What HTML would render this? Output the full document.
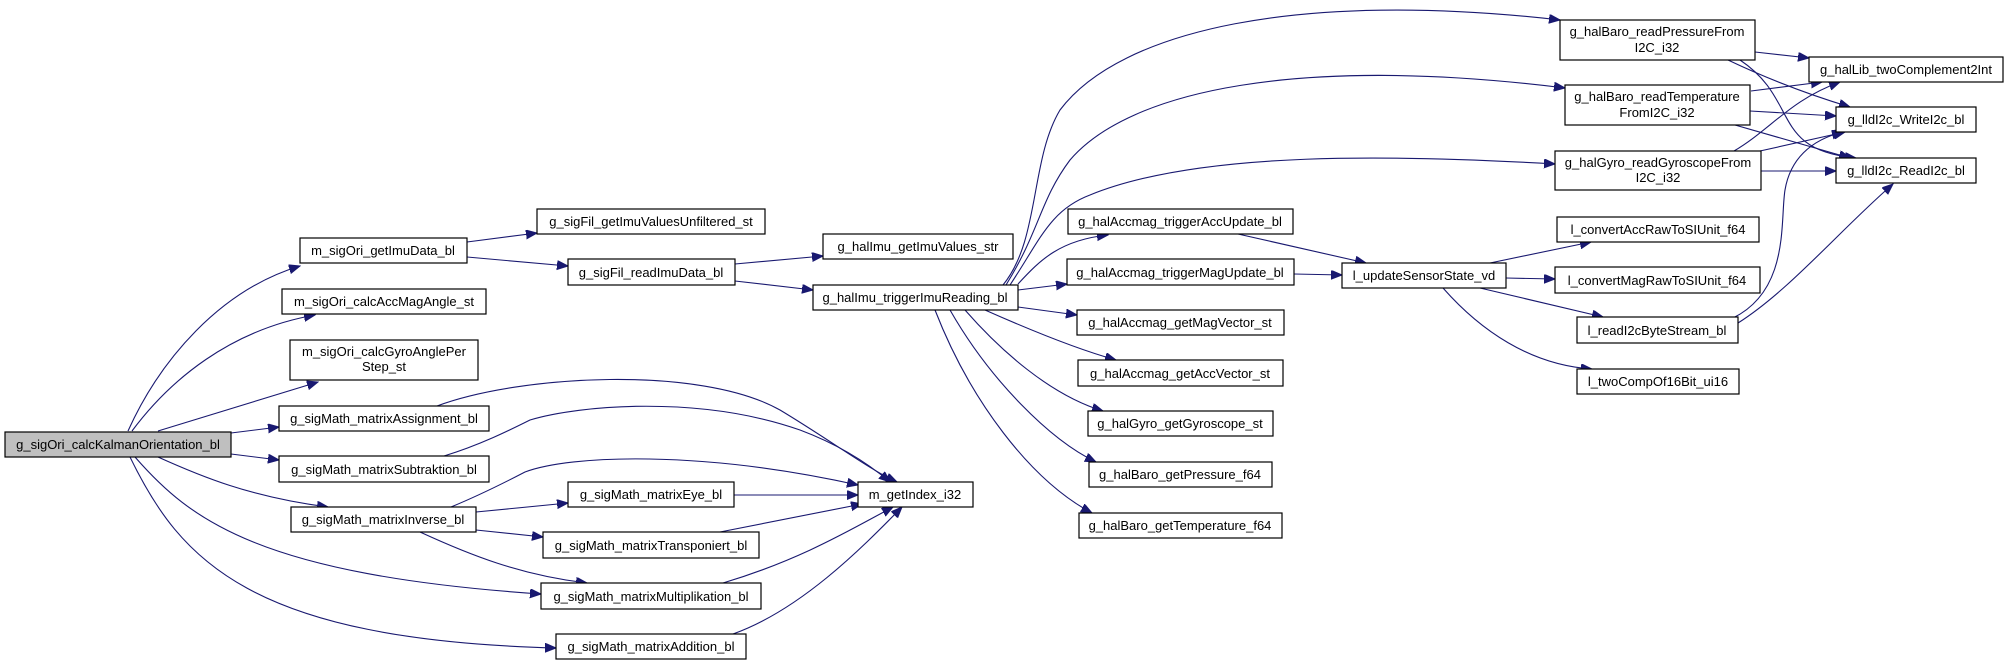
<!DOCTYPE html>
<html><head><meta charset="utf-8"><style>
html,body{margin:0;padding:0;background:#fff;}
svg{display:block;}
text{font-family:"Liberation Sans",sans-serif;font-size:13px;fill:#000;}
.n{fill:#fff;stroke:#000;stroke-width:1.2;}
.e{fill:none;stroke:#191970;stroke-width:1.1;}
</style></head><body>
<svg width="2009" height="665" viewBox="0 0 2009 665" xmlns="http://www.w3.org/2000/svg">
<defs><marker id="a" markerUnits="userSpaceOnUse" markerWidth="12" markerHeight="10" refX="11" refY="4.5" orient="auto"><path d="M0,0 L11,4.5 L0,9 Z" fill="#191970" stroke="#191970"/></marker></defs>
<g class="e" marker-end="url(#a)">
<path d="M128,431 C160,360 220,290 300,266"/>
<path d="M132,431 C170,380 230,330 315,315"/>
<path d="M158,431 L318,382"/>
<path d="M231,433 L279,427"/>
<path d="M231,454 L279,460"/>
<path d="M158,457 C200,476 250,497 328,507"/>
<path d="M135,457 C190,520 260,575 541,594"/>
<path d="M130,457 C180,560 250,640 556,648"/>
<path d="M437,406 C520,375 700,365 780,410 C830,440 870,470 897,482"/>
<path d="M444,456 C480,445 510,430 530,420 C580,405 700,395 800,430 C840,445 870,465 890,482"/>
<path d="M451,507 C480,495 500,485 525,472 C570,455 700,450 858,485"/>
<path d="M734,495 L858,495"/>
<path d="M720,532 L862,504"/>
<path d="M723,583 C800,560 850,530 893,507"/>
<path d="M733,634 C800,610 860,550 902,507"/>
<path d="M476,512 L568,503"/>
<path d="M476,530 L543,537"/>
<path d="M420,532 C470,555 520,575 587,583"/>
<path d="M467,242 L537,233"/>
<path d="M467,257 L568,266"/>
<path d="M735,264 L823,256"/>
<path d="M735,281 L813,290"/>
<path d="M1003,285 C1040,240 1030,160 1060,110 C1120,30 1300,-10 1560,20"/>
<path d="M1006,285 C1040,230 1040,200 1070,160 C1130,90 1300,55 1565,88"/>
<path d="M1010,285 C1040,240 1050,210 1090,195 C1200,150 1400,155 1555,164"/>
<path d="M1018,284 C1040,260 1060,240 1108,235"/>
<path d="M1018,290 L1067,284"/>
<path d="M1018,307 L1077,315"/>
<path d="M985,310 C1030,330 1080,350 1116,360"/>
<path d="M965,310 C1000,350 1050,395 1103,411"/>
<path d="M950,310 C990,380 1050,440 1096,462"/>
<path d="M935,310 C970,400 1030,480 1092,513"/>
<path d="M1238,234 L1366,263"/>
<path d="M1294,274 L1342,275"/>
<path d="M1490,263 L1591,242"/>
<path d="M1506,278 L1555,279"/>
<path d="M1480,288 L1603,317"/>
<path d="M1443,288 C1480,330 1530,365 1592,369"/>
<path d="M1755,52 L1809,58"/>
<path d="M1728,60 C1770,80 1810,95 1850,107"/>
<path d="M1740,60 C1800,100 1770,150 1856,158"/>
<path d="M1751,91 L1822,82"/>
<path d="M1750,111 L1836,116"/>
<path d="M1735,125 L1850,158"/>
<path d="M1734,151 C1770,130 1790,100 1840,82"/>
<path d="M1760,151 L1845,132"/>
<path d="M1761,171 L1836,171"/>
<path d="M1733,318 C1790,290 1780,220 1785,190 C1790,160 1810,140 1843,132"/>
<path d="M1738,323 C1790,290 1840,230 1893,184"/>
</g>
<g>
<rect x="5" y="432" width="226" height="25" style="fill:#bfbfbf;stroke:#000;stroke-width:1.2"/>
<text x="118" y="449" text-anchor="middle">g_sigOri_calcKalmanOrientation_bl</text>
</g>
<g class="n">
<rect x="300" y="238" width="167" height="25"/>
<rect x="282" y="289" width="204" height="25"/>
<rect x="290" y="340" width="188" height="40"/>
<rect x="279" y="406" width="210" height="25"/>
<rect x="279" y="456" width="210" height="26"/>
<rect x="291" y="507" width="185" height="25"/>
<rect x="537" y="209" width="228" height="25"/>
<rect x="568" y="259" width="167" height="26"/>
<rect x="568" y="482" width="166" height="25"/>
<rect x="543" y="532" width="216" height="26"/>
<rect x="541" y="583" width="220" height="26"/>
<rect x="556" y="634" width="190" height="25"/>
<rect x="858" y="482" width="115" height="25"/>
<rect x="823" y="234" width="190" height="25"/>
<rect x="813" y="285" width="205" height="25"/>
<rect x="1560" y="20" width="195" height="40"/>
<rect x="1565" y="85" width="185" height="40"/>
<rect x="1555" y="151" width="206" height="39"/>
<rect x="1809" y="57" width="194" height="25"/>
<rect x="1836" y="107" width="140" height="25"/>
<rect x="1836" y="158" width="140" height="25"/>
<rect x="1068" y="209" width="225" height="25"/>
<rect x="1067" y="259" width="227" height="26"/>
<rect x="1077" y="310" width="207" height="25"/>
<rect x="1078" y="360" width="205" height="26"/>
<rect x="1088" y="411" width="185" height="25"/>
<rect x="1089" y="462" width="183" height="25"/>
<rect x="1079" y="513" width="203" height="25"/>
<rect x="1342" y="263" width="164" height="25"/>
<rect x="1557" y="217" width="202" height="25"/>
<rect x="1555" y="267" width="205" height="26"/>
<rect x="1577" y="317" width="161" height="26"/>
<rect x="1577" y="369" width="162" height="25"/>
</g>
<g text-anchor="middle">
<text x="383" y="255">m_sigOri_getImuData_bl</text>
<text x="384" y="306">m_sigOri_calcAccMagAngle_st</text>
<text x="384" y="356">m_sigOri_calcGyroAnglePer</text>
<text x="384" y="371">Step_st</text>
<text x="384" y="423">g_sigMath_matrixAssignment_bl</text>
<text x="384" y="474">g_sigMath_matrixSubtraktion_bl</text>
<text x="383" y="524">g_sigMath_matrixInverse_bl</text>
<text x="651" y="226">g_sigFil_getImuValuesUnfiltered_st</text>
<text x="651" y="277">g_sigFil_readImuData_bl</text>
<text x="651" y="499">g_sigMath_matrixEye_bl</text>
<text x="651" y="550">g_sigMath_matrixTransponiert_bl</text>
<text x="651" y="601">g_sigMath_matrixMultiplikation_bl</text>
<text x="651" y="651">g_sigMath_matrixAddition_bl</text>
<text x="915" y="499">m_getIndex_i32</text>
<text x="918" y="251">g_halImu_getImuValues_str</text>
<text x="915" y="302">g_halImu_triggerImuReading_bl</text>
<text x="1657" y="36">g_halBaro_readPressureFrom</text>
<text x="1657" y="52">I2C_i32</text>
<text x="1657" y="101">g_halBaro_readTemperature</text>
<text x="1657" y="117">FromI2C_i32</text>
<text x="1658" y="167">g_halGyro_readGyroscopeFrom</text>
<text x="1658" y="182">I2C_i32</text>
<text x="1906" y="74">g_halLib_twoComplement2Int</text>
<text x="1906" y="124">g_lldI2c_WriteI2c_bl</text>
<text x="1906" y="175">g_lldI2c_ReadI2c_bl</text>
<text x="1180" y="226">g_halAccmag_triggerAccUpdate_bl</text>
<text x="1180" y="277">g_halAccmag_triggerMagUpdate_bl</text>
<text x="1180" y="327">g_halAccmag_getMagVector_st</text>
<text x="1180" y="378">g_halAccmag_getAccVector_st</text>
<text x="1180" y="428">g_halGyro_getGyroscope_st</text>
<text x="1180" y="479">g_halBaro_getPressure_f64</text>
<text x="1180" y="530">g_halBaro_getTemperature_f64</text>
<text x="1424" y="280">l_updateSensorState_vd</text>
<text x="1658" y="234">l_convertAccRawToSIUnit_f64</text>
<text x="1657" y="285">l_convertMagRawToSIUnit_f64</text>
<text x="1657" y="335">l_readI2cByteStream_bl</text>
<text x="1658" y="386">l_twoCompOf16Bit_ui16</text>
</g>
</svg>
</body></html>
